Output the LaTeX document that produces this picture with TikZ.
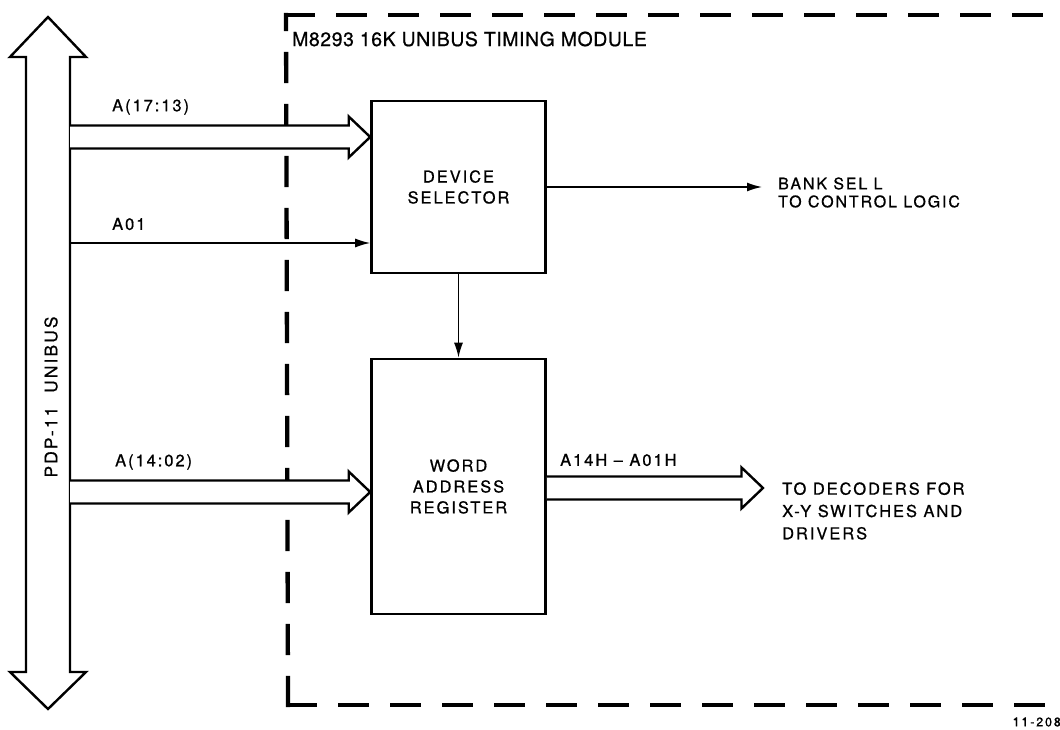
\documentclass[tikz,border=0pt]{standalone}
\usepackage{fontspec}
\setmainfont{TeX Gyre Heros}[LetterSpace=12, FakeBold=0.8]
\usetikzlibrary{arrows.meta}

\begin{document}
\begin{tikzpicture}[x=1bp, y=-1bp, line width=2.4bp,
    every node/.style={font=\fontsize{16.5}{21}\selectfont},
    blk/.style={draw, line width=2.6bp, minimum width=174bp, inner sep=0pt, align=center},
    lbl/.style={inner sep=0pt, anchor=west, align=left},
    thin/.style={line width=1.5bp, -{Latex[length=15bp,width=9bp]}},
    fat/.style={fill=white, line width=2.4bp, line join=miter, to path={
        ([yshift=11.5bp]\tikztostart) -- ([xshift=-21.5bp,yshift=11.5bp]\tikztotarget)
        -- ([xshift=-21.5bp,yshift=20.5bp]\tikztotarget) -- (\tikztotarget)
        -- ([xshift=-21.5bp,yshift=-20.5bp]\tikztotarget) -- ([xshift=-21.5bp,yshift=-11.5bp]\tikztotarget)
        -- ([yshift=-11.5bp]\tikztostart)}},
    frame/.style={line width=4.3bp, line cap=rect, dash pattern=on 27bp off 25bp}]
    \useasboundingbox (0,0) rectangle (1060,730);

    \draw[frame] (286,15) -- (1075,15);
    \draw[frame] (288,705) -- (286,15);
    \draw[frame] (288,705) -- (1075,705);

    \draw (48,17) -- (86,57) -- (70,57) -- (70,672) -- (86,672) -- (48,709)
        -- (10,672) -- (26,672) -- (26,57) -- (10,57) -- cycle;
    \node[rotate=90, font=\fontsize{17.5}{21}\selectfont] (busname) at (51,397) {PDP-11\ \ UNIBUS};

    \node[blk, minimum height=172bp] (sel) at (458.5,187) {DEVICE\\SELECTOR};
    \node[blk, minimum height=255bp] (war) at (458.5,486.5) {WORD\\ADDRESS\\REGISTER};

    \coordinate (hi) at (70,137);
    \coordinate (hiend) at (sel.west |- hi);
    \coordinate (a01) at (70,243);
    \coordinate (a01end) at (sel.west |- a01);
    \coordinate (lo) at (70,492);
    \coordinate (loend) at (war.west |- lo);
    \coordinate (bank) at (762,187);
    \coordinate (dec) at (763,488);
    \coordinate (warout) at (war.east |- dec);

    \draw[fat] (hi) to (hiend);
    \draw[thin] (a01) to (a01end);
    \draw[fat] (lo) to (loend);
    \draw[thin] (sel.east) to (bank);
    \draw[thin] (sel.south) to (war.north);
    \draw[fat] (warout) to (dec);

    \node[lbl] (hilbl) at (111,107) {A(17:13)};
    \node[lbl] (a01lbl) at (111,224) {A01};
    \node[lbl] (lolbl) at (114,462) {A(14:02)};
    \node[lbl] (outlbl) at (559,460) {A14H -- A01H};
    \node[lbl, font=\fontsize{16}{18}\selectfont] (banklbl) at (777,192.5) {BANK SEL L\\TO CONTROL LOGIC};
    \node[lbl, font=\fontsize{16.5}{22.4}\selectfont] (declbl) at (781,511) {TO DECODERS FOR\\X-Y SWITCHES AND\\DRIVERS};
    \node[lbl, font=\fontsize{19.5}{23}\selectfont\addfontfeature{LetterSpace=3}] (title) at (291,39) {M8293 16K UNIBUS TIMING MODULE};
    \node[inner sep=0pt, anchor=east, font=\fontsize{12.5}{14}\selectfont\addfontfeature{LetterSpace=15}] (fig) at (1062,722) {11-208};
\end{tikzpicture}
\end{document}
